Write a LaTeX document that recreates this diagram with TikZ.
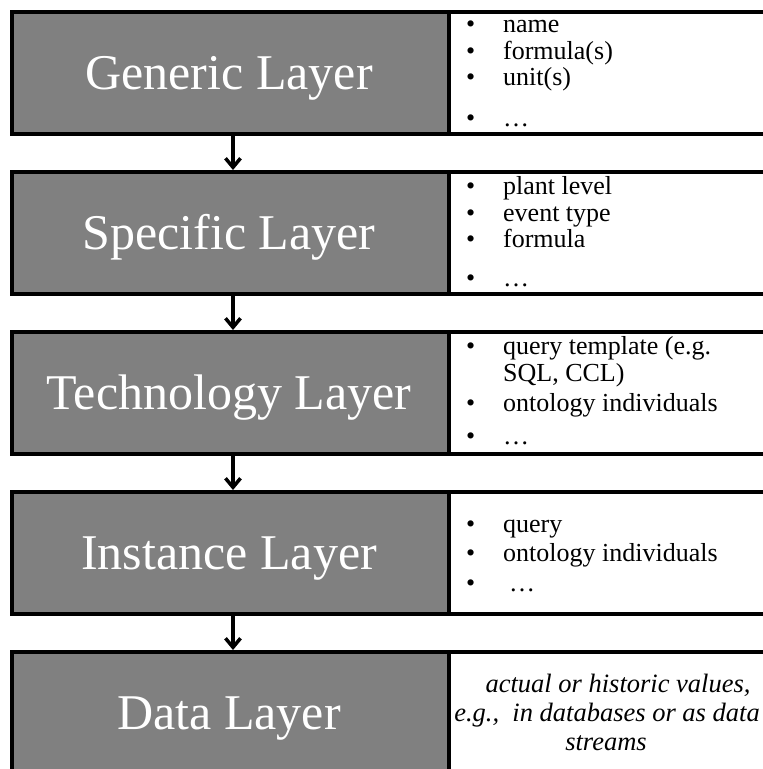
\documentclass[tikz,border=0pt]{standalone}
\usepackage{fontspec}
\setmainfont{Liberation Serif}
\usetikzlibrary{arrows.meta}
\definecolor{layergray}{HTML}{808080}
\begin{document}
\begin{tikzpicture}[x=1pt,y=-1pt,
  graybox/.style={draw=black,line width=4pt,fill=layergray,inner sep=0pt,minimum width=437pt,minimum height=122pt},
  whitebox/.style={draw=black,line width=4pt,fill=white,inner sep=0pt,minimum width=340pt,minimum height=122pt},
  layerlabel/.style={anchor=base,inner sep=0pt,text=white,font=\fontsize{50}{56}\selectfont},
  item/.style={anchor=base west,inner sep=0pt,font=\fontsize{26}{27}\selectfont},
  datatext/.style={anchor=base,inner sep=0pt,font=\fontsize{26.5}{27}\selectfont\itshape},
  flow/.style={line width=3.5pt,-{Straight Barb[length=9pt,width=15pt,line width=3.5pt]}}
]
\useasboundingbox (0,0) rectangle (763,769);
\clip (0,0) rectangle (763,769);
% boxes
\foreach \i/\t in {1/10,2/170,3/330,4/490,5/650}{
  \node[whitebox,anchor=north west] (w\i) at (447,\t) {};
  \node[graybox,anchor=north west] (g\i) at (10,\t) {};
}
% labels
\node[layerlabel] (l1) at (229,89) {Generic Layer};
\node[layerlabel] (l2) at (229,249) {Specific Layer};
\node[layerlabel] (l3) at (229,409) {Technology Layer};
\node[layerlabel] (l4) at (229,569) {Instance Layer};
\node[layerlabel] (l5) at (229,729) {Data Layer};
% arrows
\foreach \a/\b in {1/2,2/3,3/4,4/5}{
  \draw[flow] ([xshift=2.5pt]g\a.south) -- ([xshift=2.5pt]g\b.north);
}
\newcommand{\bul}{\makebox[40pt][l]{\hspace{3pt}•}}
% generic
\node[item] (a1) at (463,32) {\bul name};
\node[item] (a2) at (463,59) {\bul formula(s)};
\node[item] (a3) at (463,85) {\bul unit(s)};
\node[item] (a4) at (463,126) {\bul …};
% specific
\node[item] (b1) at (463,194) {\bul plant level};
\node[item] (b2) at (463,221) {\bul event type};
\node[item] (b3) at (463,247) {\bul formula};
\node[item] (b4) at (463,286) {\bul …};
% technology
\node[item] (c1) at (463,354) {\bul query template (e.g.};
\node[item] (c2) at (463,381) {\makebox[40pt]{}SQL, CCL)};
\node[item] (c3) at (463,411) {\bul ontology individuals};
\node[item] (c4) at (463,444) {\bul …};
% instance
\node[item] (d1) at (463,532) {\bul query};
\node[item] (d2) at (463,561) {\bul ontology individuals};
\node[item] (d3) at (463,591) {\bul\hspace{6pt}…};
% data
\node[datatext] (e1) at (618,692) {actual or historic values,};
\node[datatext] (e2) at (607,721) {e.g.,\ \ in databases or as data};
\node[datatext] (e3) at (606,750) {streams};
\end{tikzpicture}
\end{document}
